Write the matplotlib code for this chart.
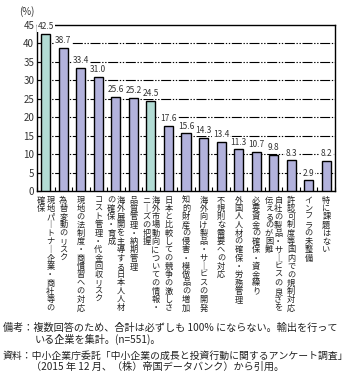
import matplotlib
matplotlib.use("Agg")
import matplotlib.pyplot as plt
import matplotlib.transforms as mtransforms
import numpy as np

plt.rcParams['font.family'] = ['Noto Sans CJK JP', 'DejaVu Sans']

# data
labels = [
    ["現地パートナー企業・商社等の", "確保"],
    ["為替変動のリスク"],
    ["現地の法制度・商慣習への対応"],
    ["コスト管理・代金回収リスク"],
    ["海外展開を主導する日本人人材", "の確保・育成"],
    ["品質管理・納期管理"],
    ["海外市場動向についての情報・", "ニーズの把握"],
    ["日本と比較しての競争の激しさ"],
    ["知的財産の侵害・模倣品の増加"],
    ["海外向け製品・サービスの開発"],
    ["不規則な需要への対応"],
    ["外国人人材の確保・労務管理"],
    ["必要資金の確保・資金繰り"],
    ["自社の製品・サービスの良さを", "伝えるのが困難"],
    ["許認可制度等国内での規制対応"],
    ["インフラの未整備"],
    ["特に課題はない"],
]
values = [42.5, 38.7, 33.4, 31.0, 25.6, 25.2, 24.5, 17.6, 15.6, 14.3, 13.4,
          11.3, 10.7, 9.8, 8.3, 2.9, 8.2]
highlight = [0, 6]

notes = [
    "備考：複数回答のため、合計は必ずしも 100% にならない。輸出を行って",
    "いる企業を集計。(n=551)。",
    "資料：中小企業庁委託「中小企業の成長と投資行動に関するアンケート調査」",
    "（2015 年 12 月、（株）帝国データバンク）から引用。",
]

green = "#b2dcd4"
purple = "#b2b2dc"

fig = plt.figure(figsize=(3.57, 3.75), dpi=100)
ax = fig.add_axes([37 / 357, 1 - 191 / 375, 298 / 357, 166 / 375])

x = np.arange(len(values))
colors = [green if i in highlight else purple for i in x]
ax.bar(x, values, width=0.52, color=colors, edgecolor="black", linewidth=1.0, zorder=3)

ax.set_xlim(-0.5, len(values) - 0.5)
ax.set_ylim(0, 45)
ax.set_yticks(np.arange(0, 46, 5))
ax.set_xticks([])
ax.set_xticks(np.arange(-0.5, len(values)), minor=True)
ax.tick_params(axis="x", which="minor", direction="in", length=3, width=0.8)
ax.tick_params(axis="y", direction="in", length=3, width=0.8, labelsize=7, pad=2,
               labelcolor="#333333")
for s in ax.spines.values():
    s.set_linewidth(1.0)

for yv in range(5, 45, 5):
    ax.axhline(yv, color="black", linewidth=0.8, linestyle=(0, (9, 1.5, 1.2, 1.5, 1.2, 1.5)), zorder=1)

for i, v in enumerate(values):
    ax.annotate(f"{v:.1f}", (i, v), xytext=(0, 2), textcoords="offset points",
                ha="center", va="bottom", fontsize=6, color="#333333", zorder=4,
                bbox=dict(boxstyle="square,pad=0.1", fc="white", ec="none"))

# vertical category labels, one character at a time
trans = mtransforms.blended_transform_factory(ax.transData, ax.transAxes)
pitch = 8.3
for i, cols in enumerate(labels):
    n = len(cols)
    for j, line in enumerate(cols):
        dx = 0 if n == 1 else (4.6 if j == 0 else -4.6)
        for k, ch in enumerate(line):
            if ch == "ー":
                ch = "｜"
            t = mtransforms.offset_copy(trans, fig=fig, x=dx, y=-(9 + k * pitch), units="dots")
            ax.text(i, 0, ch, transform=t, ha="center", va="center", fontsize=5.9,
                    color="#222222", clip_on=False)

fig.text(27 / 357, 1 - 12 / 375, "(%)", ha="center", va="center", fontsize=7, color="#333333")

fig.text(3 / 357, 1 - 328 / 375, notes[0], ha="left", va="center", fontsize=7.3, color="#222222")
fig.text(35 / 357, 1 - 339 / 375, notes[1], ha="left", va="center", fontsize=7.3, color="#222222")
fig.text(3 / 357, 1 - 356 / 375, notes[2], ha="left", va="center", fontsize=7.1, color="#222222")
fig.text(31 / 357, 1 - 367 / 375, notes[3], ha="left", va="center", fontsize=7.3, color="#222222")

fig.savefig("out.png", dpi=100)
